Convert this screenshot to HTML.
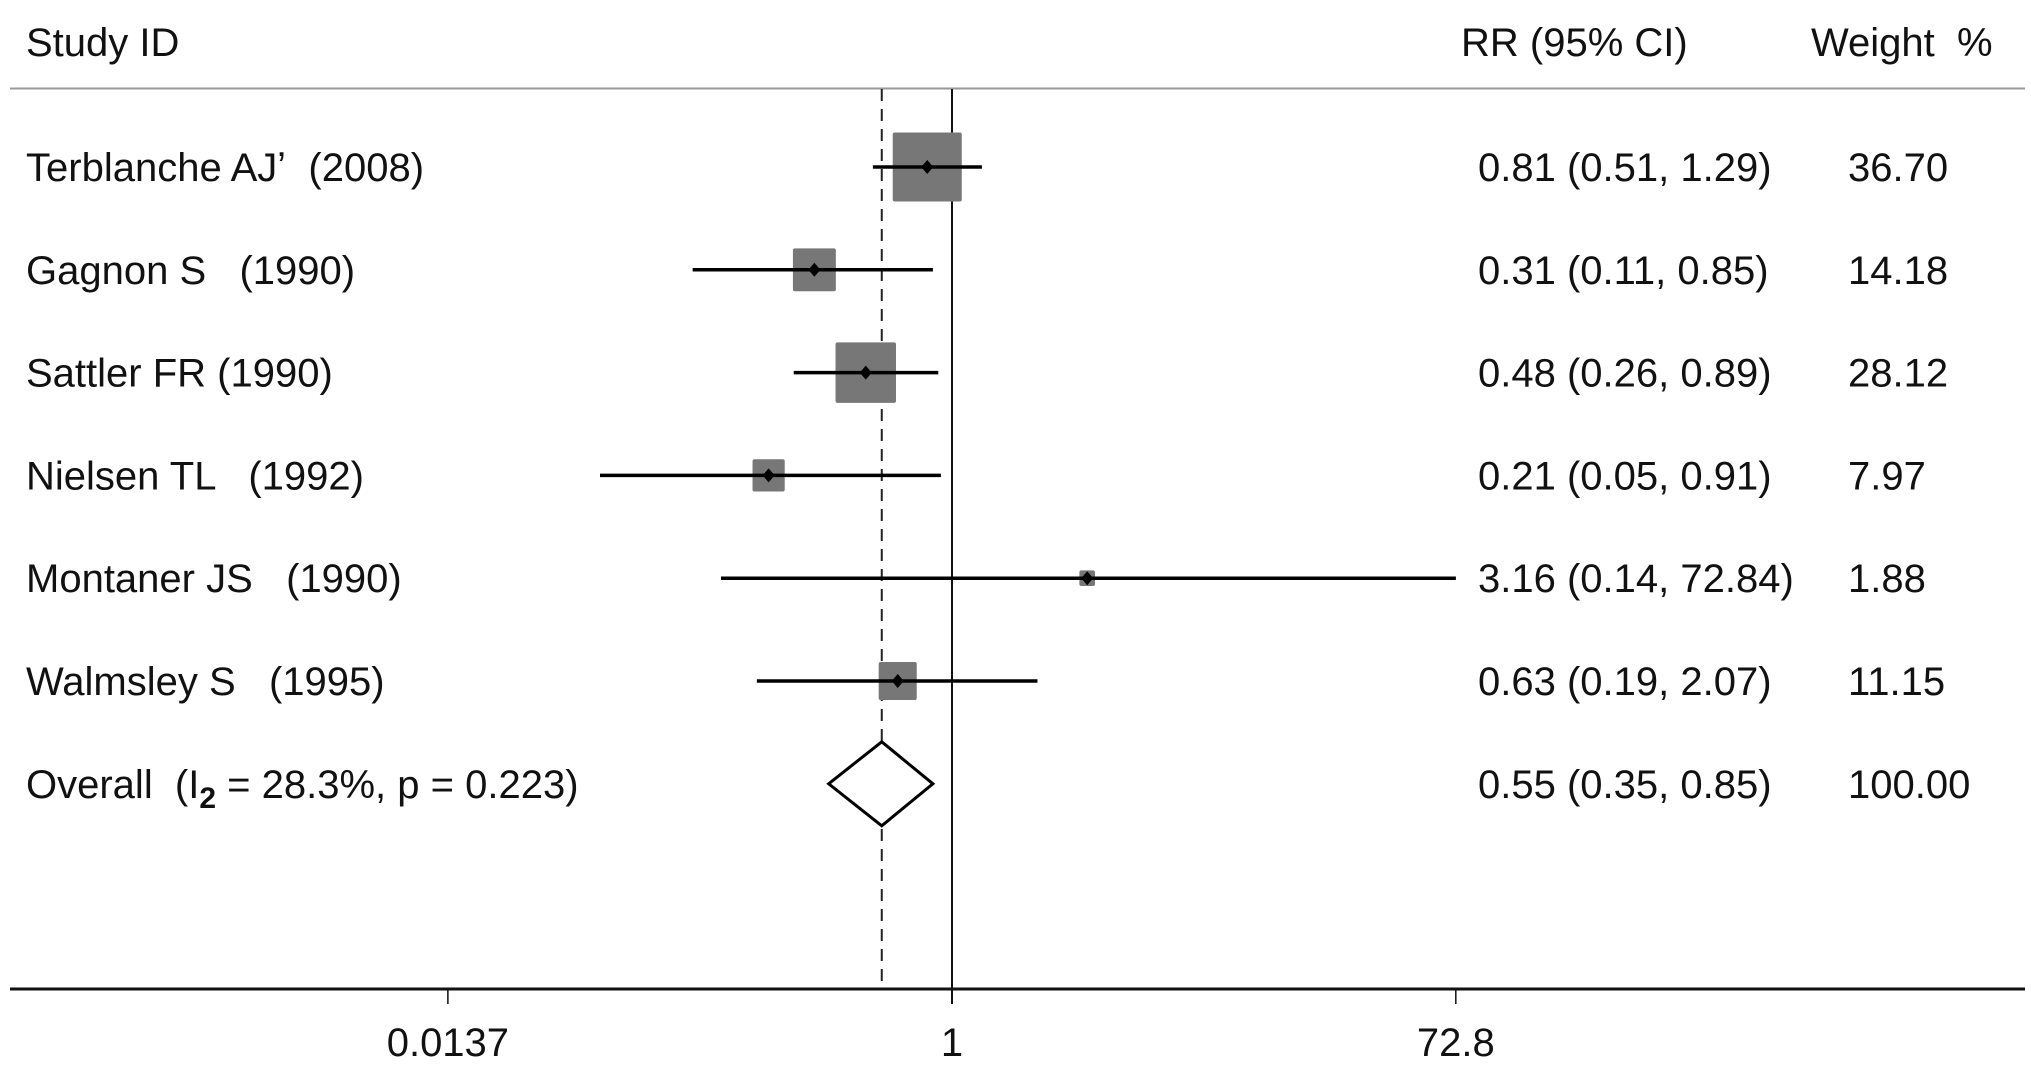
<!DOCTYPE html>
<html><head><meta charset="utf-8"><style>
html,body{margin:0;padding:0;background:#fff;}
svg{display:block;font-family:"Liberation Sans",Arial,sans-serif;}
.pre{white-space:pre;}
</style></head><body>
<svg id="chart" width="2031" height="1068" viewBox="0 0 2031 1068" xmlns="http://www.w3.org/2000/svg">
<g id="g"></g>
</svg>
<script>
const studies=["Terblanche AJ\u02BC  (2008)","Gagnon S   (1990)","Sattler FR (1990)","Nielsen TL   (1992)","Montaner JS   (1990)","Walmsley S   (1995)"];
const rr=[0.81,0.31,0.48,0.21,3.16,0.63];
const lo=[0.51,0.11,0.26,0.05,0.14,0.19];
const hi=[1.29,0.85,0.89,0.91,72.84,2.07];
const weights=[36.70,14.18,28.12,7.97,1.88,11.15];
const overall=[0.55,0.35,0.85];
const tickVals=[0.0137,1,72.8];
const tickLabels=["0.0137","1","72.8"];

const NS="http://www.w3.org/2000/svg";
const g=document.getElementById('g');
function X(v){return 952+117.5*Math.log(v);}
function Y(i){return 167+102.8*i;}
function mk(tag,attrs,txt){const e=document.createElementNS(NS,tag);for(const k in attrs)e.setAttribute(k,attrs[k]);if(txt!==undefined)e.textContent=txt;g.appendChild(e);return e;}
const fs=40;
let e;
e=mk('text',{x:26,y:56,'font-size':fs,fill:'#111'},'Study ID');


e=mk('text',{x:1461,y:56,'font-size':fs,fill:'#111'},'RR (95% CI)');


e=mk('text',{x:1811,y:56,'font-size':fs,fill:'#111',class:'pre'},'Weight  %');


e=mk('line',{x1:10,x2:2025,y1:88.5,y2:88.5,stroke:'#999','stroke-width':2});


e=mk('line',{x1:X(overall[0]),x2:X(overall[0]),y1:89,y2:989,stroke:'#222','stroke-width':2,'stroke-dasharray':'12,8'});


e=mk('line',{x1:X(1),x2:X(1),y1:89,y2:1004,stroke:'#111','stroke-width':2});


e=mk('line',{x1:10,x2:2025,y1:989,y2:989,stroke:'#111','stroke-width':3});


tickVals.forEach((v,i)=>{
  let t=mk('line',{x1:X(v),x2:X(v),y1:989,y2:1004,stroke:'#111','stroke-width':1.5});
  
  
  let l=mk('text',{x:X(v),y:1056,'font-size':fs,'text-anchor':'middle',fill:'#111'},tickLabels[i]);
  
  
});
studies.forEach((s,i)=>{
  const y=Y(i);
  let t=mk('text',{x:26,y:y+14,'font-size':fs,fill:'#111',class:'pre'},s);
  
  
  const side=11.4*Math.sqrt(weights[i]);
  let b=mk('rect',{x:X(rr[i])-side/2,y:y-side/2,width:side,height:side,fill:'#777',rx:2});
  
  
  let c=mk('line',{x1:X(lo[i]),x2:X(hi[i]),y1:y,y2:y,stroke:'#000','stroke-width':3.5});
  
  
  const px=X(rr[i]);
  let d=mk('polygon',{points:`${px-6},${y} ${px},${y-7} ${px+6},${y} ${px},${y+7}`,fill:'#000'});
  
  
  let r=mk('text',{x:1478,y:y+14,'font-size':fs,fill:'#111'},`${rr[i].toFixed(2)} (${lo[i].toFixed(2)}, ${hi[i].toFixed(2)})`);
  
  
  let w=mk('text',{x:1848,y:y+14,'font-size':fs,fill:'#111'},weights[i].toFixed(2));
  
  
});
const yo=Y(6);
e=mk('text',{x:26,y:yo+14,'font-size':fs,fill:'#111',class:'pre'});


e.innerHTML='Overall  (I<tspan font-size="30" font-weight="bold" dy="10">2</tspan><tspan dy="-10"> = 28.3%, p = 0.223)</tspan>';
e=mk('polygon',{points:`${X(overall[1])},${yo} ${X(overall[0])},${yo-42} ${X(overall[2])},${yo} ${X(overall[0])},${yo+42}`,fill:'#fff',stroke:'#000','stroke-width':3});


e=mk('text',{x:1478,y:yo+14,'font-size':fs,fill:'#111'},`${overall[0].toFixed(2)} (${overall[1].toFixed(2)}, ${overall[2].toFixed(2)})`);


e=mk('text',{x:1848,y:yo+14,'font-size':fs,fill:'#111'},'100.00');


</script>
</body></html>
